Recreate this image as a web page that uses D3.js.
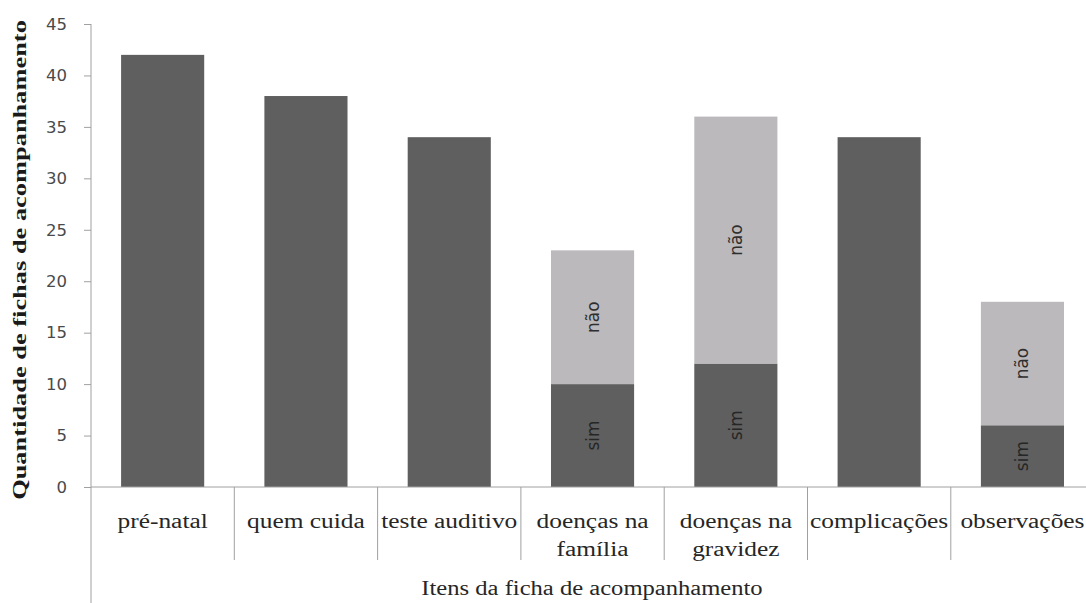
<!DOCTYPE html>
<html><head><meta charset="utf-8">
<script src="https://cdn.jsdelivr.net/npm/d3@7"></script>
<style>html,body{margin:0;padding:0;background:#fff;}svg{display:block;}</style>
</head><body>
<script>
const categories = [["pré-natal"],["quem cuida"],["teste auditivo"],["doenças na","família"],["doenças na","gravidez"],["complicações"],["observações"]];
const simValues = [42, 38, 34, 10, 12, 34, 6];
const naoValues = [0, 0, 0, 13, 24, 0, 12];
const segmentLabels = ["sim", "não"];
const yTicks = [0,5,10,15,20,25,30,35,40,45];
const yTitle = "Quantidade de fichas de acompanhamento";
const xTitle = "Itens da ficha de acompanhamento";

const W = 1086, H = 603;
const svg = d3.select("body").append("svg").attr("width", W).attr("height", H);
const x0 = 91, y0 = 487, yTop = 24;
const keys = categories.map(c => c.join(" "));
const x = d3.scaleBand().domain(keys).range([x0, x0 + 7*143.3]).paddingInner(0.42).paddingOuter(0.21);
const y = d3.scaleLinear().domain([0,45]).range([y0, yTop]);

const serif = "Liberation Serif, Times New Roman, serif";
const sans = "DejaVu Sans, Verdana, sans-serif";
const axisColor = "#a0a0a0";

// bars
const dark = "#5f5f5f", light = "#bbb9bc";
keys.forEach((k,i) => {
  const s = simValues[i], n = naoValues[i];
  svg.append("rect").attr("x", x(k)).attr("width", x.bandwidth())
    .attr("y", y(s)).attr("height", y(0)-y(s)).attr("fill", dark);
  if (n > 0) {
    svg.append("rect").attr("x", x(k)).attr("width", x.bandwidth())
      .attr("y", y(s+n)).attr("height", y(s)-y(s+n)).attr("fill", light);
    const cx = x(k) + x.bandwidth()/2;
    [[s/2, segmentLabels[0], "#262626"], [s + n/2, segmentLabels[1], "#2e2e2e"]].forEach(([v, t, c]) => {
      svg.append("text").attr("transform", `translate(${cx+6},${y(v)}) rotate(-90)`)
        .attr("text-anchor","middle").attr("font-family", sans)
        .attr("font-size", 17).attr("fill", c).text(t);
    });
  }
});

// y axis
const yAxis = d3.axisLeft(y).tickValues(yTicks).tickSize(7).tickPadding(17);
const gy = svg.append("g").attr("transform", `translate(${x0},0)`).call(yAxis);
gy.select(".domain").remove();
gy.selectAll(".tick line").attr("stroke", axisColor);
gy.selectAll(".tick text").attr("font-family", sans).attr("font-size", 16.5).attr("fill","#4a4a4a");
svg.append("line").attr("x1", x0).attr("x2", x0).attr("y1", yTop).attr("y2", H).attr("stroke", axisColor);

// x axis
svg.append("line").attr("x1", x0).attr("x2", W).attr("y1", y0).attr("y2", y0).attr("stroke", axisColor);
keys.forEach((k,i) => {
  if (i > 0) {
    const bx = x(k) - x.step()*x.paddingInner()/2;
    svg.append("line").attr("x1", bx).attr("x2", bx).attr("y1", y0).attr("y2", 560).attr("stroke", axisColor);
  }
  const cx = x(k) + x.bandwidth()/2;
  const g = svg.append("g").attr("transform", `translate(${cx},0) scale(1.27,1)`);
  const t = g.append("text").attr("text-anchor","middle").attr("font-family", serif)
    .attr("font-size", 20).attr("fill","#262626");
  categories[i].forEach((line, j) => {
    t.append("tspan").attr("x", 0).attr("y", 528 + j*28).text(line);
  });
});

svg.append("g").attr("transform", "translate(592,595) scale(1.23,1)")
  .append("text").attr("text-anchor","middle")
  .attr("font-family", serif).attr("font-size", 20).attr("fill","#262626").text(xTitle);
svg.append("g").attr("transform", "translate(26,260) rotate(-90) scale(1.39,1)")
  .append("text").attr("text-anchor","middle")
  .attr("font-family", serif).attr("font-weight","bold").attr("font-size", 19).attr("fill","#1a1a1a").text(yTitle);
</script>
</body></html>
